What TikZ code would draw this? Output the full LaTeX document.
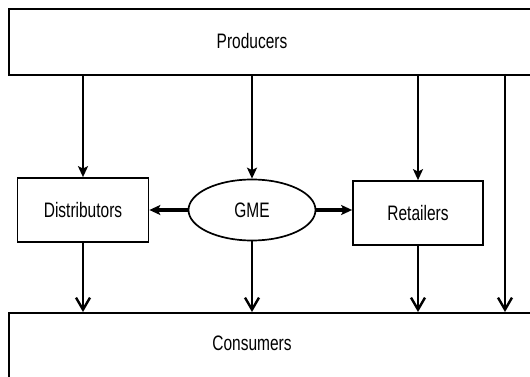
\documentclass[tikz,border=0pt]{standalone}
\usepackage{fontspec}
\setmainfont{Liberation Sans}
\usetikzlibrary{arrows.meta}
\usetikzlibrary{shapes.geometric}

\newcommand{\tallname}[1]{\scalebox{1}[1.35]{#1}}

\begin{document}
\begin{tikzpicture}[x=1pt,y=-1pt,
		lbl/.style={font=\fontsize{15.5}{18}\selectfont},
		box/.style={draw,line width=1.7pt,inner sep=0pt},
		feed/.style={line width=2.8pt,-{Stealth[length=11pt,width=10pt,inset=2.5pt]}},
		sell/.style={line width=2.8pt,-{Straight Barb[length=12pt,width=14pt,line width=2.4pt]}}]
		\useasboundingbox (0,0) rectangle (530,377);
		\clip (0,0) rectangle (530,377);
		% the two wide boxes run off the page
		\node [box,anchor=north west,minimum width=580pt,minimum height=66pt] (prod) at (8,8) {};
		\node [box,anchor=north west,minimum width=580pt,minimum height=100pt] (cons) at (8,312) {};
		\node [lbl] (prodname) at (252,41) {\tallname{Producers}};
		\node [lbl] (consname) at (252,343) {\tallname{Consumers}};
		% middle row
		\node [box,lbl,minimum width=131pt,minimum height=64pt] (dist) at (83,210) {\tallname{Distributors}};
		\node [box,lbl,ellipse,minimum width=127pt,minimum height=61pt] (gme) at (252,210) {\tallname{GME}};
		\node [box,lbl,minimum width=130pt,minimum height=64pt] (ret) at (418,213) {\tallname{Retailers}};
		\coordinate (direct) at (505,74);
		% flows
		\draw [feed] (dist |- prod.south) -- (dist.north);
		\draw [feed] (gme |- prod.south) -- (gme.north);
		\draw [feed] (ret |- prod.south) -- (ret.north);
		\draw [feed,line width=3.6pt] (gme.west) -- (dist.east |- gme.west);
		\draw [feed,line width=3.6pt] (gme.east) -- (ret.west |- gme.east);
		\draw [sell] (dist.south) -- (dist |- cons.north);
		\draw [sell] (gme.south) -- (gme |- cons.north);
		\draw [sell] (ret.south) -- (ret |- cons.north);
		\draw [sell] (direct) -- (direct |- cons.north);
	\end{tikzpicture}
\end{document}
